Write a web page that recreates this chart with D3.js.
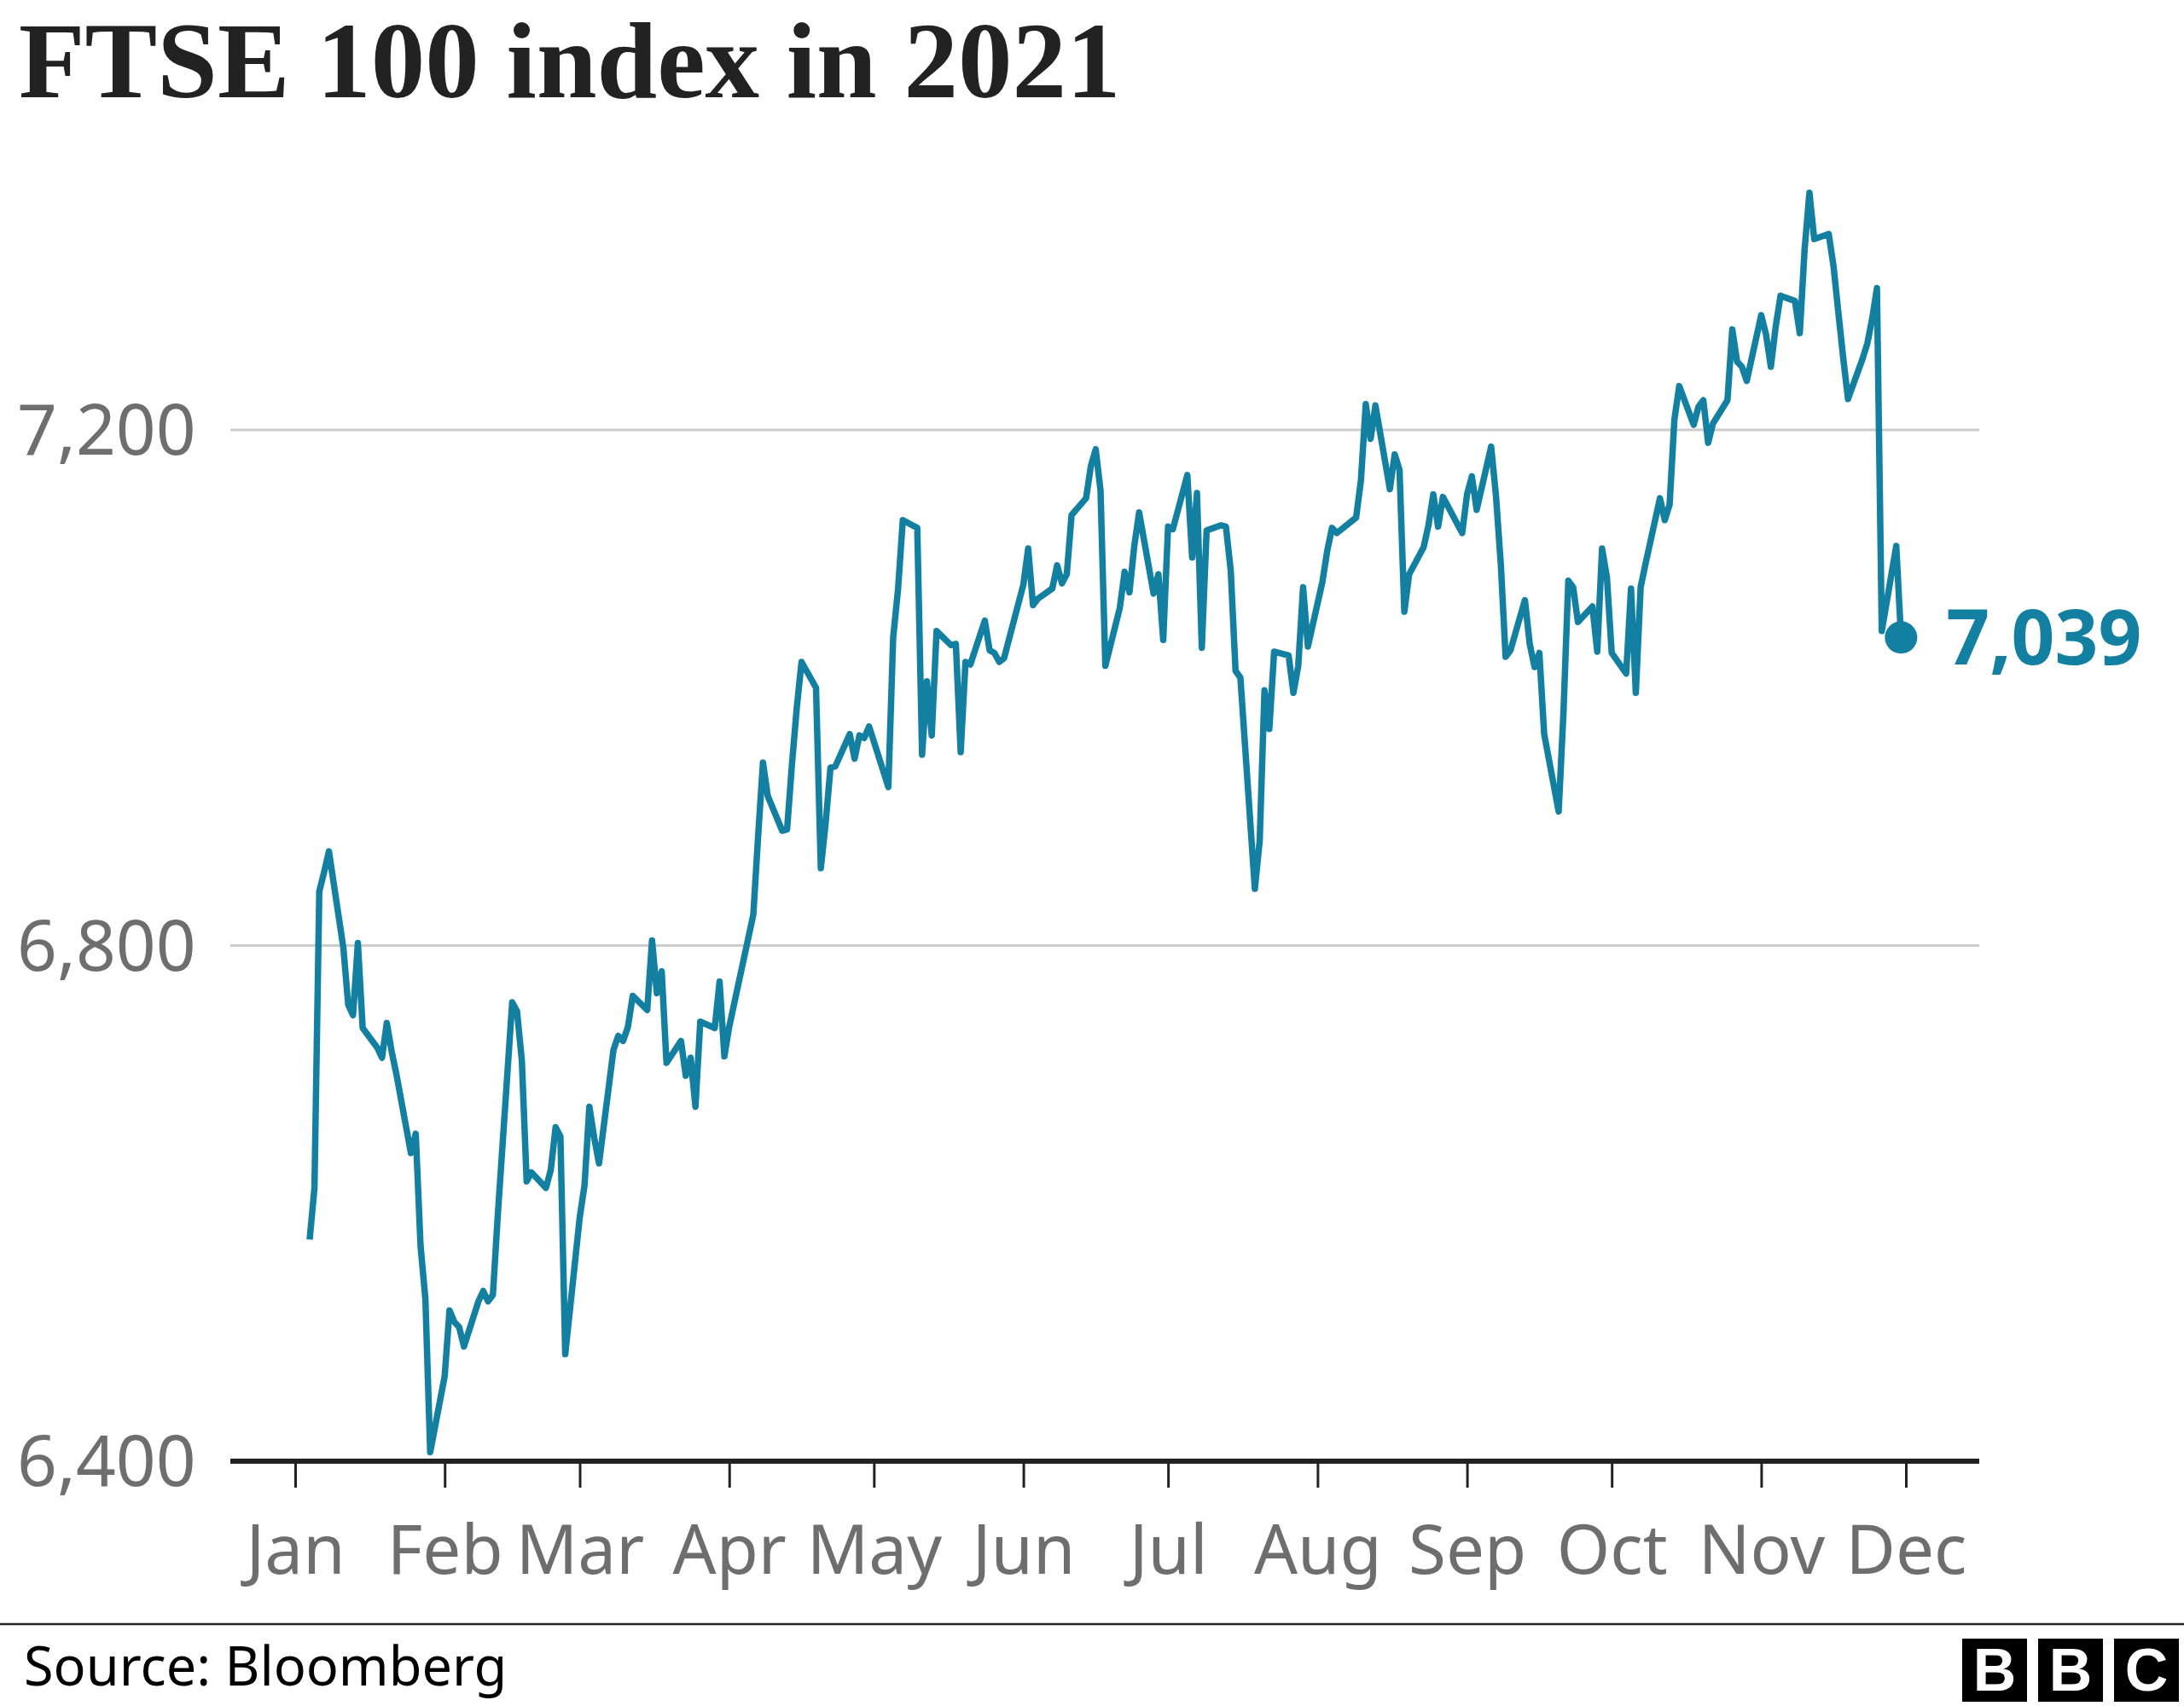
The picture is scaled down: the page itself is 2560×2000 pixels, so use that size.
<!DOCTYPE html>
<html>
<head>
<meta charset="utf-8">
<script src="https://cdn.jsdelivr.net/npm/d3@7"></script>
<style>
  html, body { margin: 0; padding: 0; background: #ffffff; }
  svg { display: block; }
</style>
</head>
<body>
<svg id="chart" width="2560" height="2000"></svg>
<script>
// ---------------- DATA ----------------
const title = "FTSE 100 index in 2021";
const source = "Source: Bloomberg";
const endLabel = "7,039";

const tradingDays = [
  "2021-01-04","2021-01-05","2021-01-06","2021-01-07","2021-01-08",
  "2021-01-11","2021-01-12","2021-01-13","2021-01-14","2021-01-15",
  "2021-01-18","2021-01-19","2021-01-20","2021-01-21","2021-01-22",
  "2021-01-25","2021-01-26","2021-01-27","2021-01-28","2021-01-29",
  "2021-02-01","2021-02-02","2021-02-03","2021-02-04","2021-02-05",
  "2021-02-08","2021-02-09","2021-02-10","2021-02-11","2021-02-12",
  "2021-02-15","2021-02-16","2021-02-17","2021-02-18","2021-02-19",
  "2021-02-22","2021-02-23","2021-02-24","2021-02-25","2021-02-26",
  "2021-03-01","2021-03-02","2021-03-03","2021-03-04","2021-03-05",
  "2021-03-08","2021-03-09","2021-03-10","2021-03-11","2021-03-12",
  "2021-03-15","2021-03-16","2021-03-17","2021-03-18","2021-03-19",
  "2021-03-22","2021-03-23","2021-03-24","2021-03-25","2021-03-26",
  "2021-03-29","2021-03-30","2021-03-31",
  "2021-04-01","2021-04-06","2021-04-07","2021-04-08","2021-04-09",
  "2021-04-12","2021-04-13","2021-04-14","2021-04-15","2021-04-16",
  "2021-04-19","2021-04-20","2021-04-21","2021-04-22","2021-04-23",
  "2021-04-26","2021-04-27","2021-04-28","2021-04-29","2021-04-30",
  "2021-05-04","2021-05-05","2021-05-06","2021-05-07",
  "2021-05-10","2021-05-11","2021-05-12","2021-05-13","2021-05-14",
  "2021-05-17","2021-05-18","2021-05-19","2021-05-20","2021-05-21",
  "2021-05-24","2021-05-25","2021-05-26","2021-05-27","2021-05-28",
  "2021-06-01","2021-06-02","2021-06-03","2021-06-04",
  "2021-06-07","2021-06-08","2021-06-09","2021-06-10","2021-06-11",
  "2021-06-14","2021-06-15","2021-06-16","2021-06-17","2021-06-18",
  "2021-06-21","2021-06-22","2021-06-23","2021-06-24","2021-06-25",
  "2021-06-28","2021-06-29","2021-06-30",
  "2021-07-01","2021-07-02",
  "2021-07-05","2021-07-06","2021-07-07","2021-07-08","2021-07-09",
  "2021-07-12","2021-07-13","2021-07-14","2021-07-15","2021-07-16",
  "2021-07-19","2021-07-20","2021-07-21","2021-07-22","2021-07-23",
  "2021-07-26","2021-07-27","2021-07-28","2021-07-29","2021-07-30",
  "2021-08-02","2021-08-03","2021-08-04","2021-08-05","2021-08-06",
  "2021-08-09","2021-08-10","2021-08-11","2021-08-12","2021-08-13",
  "2021-08-16","2021-08-17","2021-08-18","2021-08-19","2021-08-20",
  "2021-08-23","2021-08-24","2021-08-25","2021-08-26","2021-08-27",
  "2021-08-31",
  "2021-09-01","2021-09-02","2021-09-03",
  "2021-09-06","2021-09-07","2021-09-08","2021-09-09","2021-09-10",
  "2021-09-13","2021-09-14","2021-09-15","2021-09-16","2021-09-17",
  "2021-09-20","2021-09-21","2021-09-22","2021-09-23","2021-09-24",
  "2021-09-27","2021-09-28","2021-09-29","2021-09-30",
  "2021-10-01",
  "2021-10-04","2021-10-05","2021-10-06","2021-10-07","2021-10-08",
  "2021-10-11","2021-10-12","2021-10-13","2021-10-14","2021-10-15",
  "2021-10-18","2021-10-19","2021-10-20","2021-10-21","2021-10-22",
  "2021-10-25","2021-10-26","2021-10-27","2021-10-28","2021-10-29",
  "2021-11-01","2021-11-02","2021-11-03","2021-11-04","2021-11-05",
  "2021-11-08","2021-11-09","2021-11-10","2021-11-11","2021-11-12",
  "2021-11-15","2021-11-16","2021-11-17","2021-11-18","2021-11-19",
  "2021-11-22","2021-11-23","2021-11-24","2021-11-25","2021-11-26",
  "2021-11-29","2021-11-30"
];

const closeValues = [
  6572, 6612, 6842, 6857, 6873,
  6798, 6754, 6746, 6802, 6736,
  6721, 6713, 6740, 6718, 6700,
  6639, 6654, 6567, 6526, 6407,
  6466, 6517, 6508, 6504, 6489,
  6524, 6532, 6524, 6529, 6590,
  6756, 6749, 6711, 6617, 6624,
  6612, 6626, 6659, 6652, 6483,
  6589, 6614, 6675, 6651, 6631,
  6719, 6730, 6726, 6737, 6761,
  6750, 6804, 6763, 6780, 6709,
  6726, 6699, 6713, 6675, 6741,
  6736, 6772, 6714,
  6737, 6824, 6885, 6942, 6916,
  6889, 6890, 6940, 6984, 7020,
  7000, 6860, 6895, 6938, 6939,
  6964, 6945, 6963, 6961, 6970,
  6923, 7039, 7076, 7130,
  7124, 6948, 7005, 6963, 7044,
  7033, 7034, 6950, 7020, 7018,
  7052, 7029, 7027, 7020, 7023,
  7080, 7108, 7064, 7069,
  7077, 7095, 7081, 7088, 7134,
  7147, 7172, 7185, 7153, 7017,
  7062, 7090, 7074, 7110, 7136,
  7073, 7088, 7037,
  7125, 7123,
  7165, 7101, 7151, 7031, 7122,
  7126, 7125, 7091, 7013, 7008,
  6844, 6881, 6998, 6968, 7028,
  7025, 6996, 7017, 7078, 7032,
  7082, 7106, 7124, 7120, 7123,
  7132, 7161, 7220, 7193, 7219,
  7154, 7181, 7169, 7059, 7088,
  7109, 7126, 7150, 7125, 7148,
  7120,
  7150, 7164, 7138,
  7187, 7149, 7096, 7024, 7029,
  7068, 7034, 7016, 7027, 6964,
  6904, 6981, 7083, 7078, 7051,
  7063, 7028, 7108, 7086,
  7027,
  7011, 7077, 6996, 7078, 7096,
  7147, 7130, 7142, 7208, 7234,
  7204, 7218, 7223, 7190, 7205,
  7223, 7278, 7253, 7249, 7238,
  7289, 7274, 7249, 7280, 7304,
  7300, 7275, 7340, 7384, 7348,
  7352, 7327, 7291, 7256, 7224,
  7255, 7267, 7286, 7310, 7044,
  7110, 7039
];

const monthTicks = ["2021-01-01","2021-02-01","2021-03-01","2021-04-01","2021-05-01","2021-06-01",
                    "2021-07-01","2021-08-01","2021-09-01","2021-10-01","2021-11-01","2021-12-01"];
const monthLabels = ["Jan","Feb","Mar","Apr","May","Jun","Jul","Aug","Sep","Oct","Nov","Dec"];
const yTicks = [6400, 6800, 7200];

// ---------------- LAYOUT ----------------
const W = 2560, H = 2000;
const plotLeft = 270, plotRight = 2320;
const teal = "#1380A1";
const grey = "#6e6e6e";
const dark = "#222222";

const parse = d3.utcParse("%Y-%m-%d");
const data = tradingDays.map((d, i) => ({ date: parse(d), value: closeValues[i] }));

const x = d3.scaleUtc()
  .domain([parse("2021-01-01"), parse("2021-12-01")])
  .range([346, 2234]);

const y = d3.scaleLinear()
  .domain([6400, 7200])
  .range([1713, 504]);

const svg = d3.select("#chart");
svg.append("rect").attr("width", W).attr("height", H).attr("fill", "#ffffff");

// Title
svg.append("text")
  .attr("x", 22).attr("y", 114)
  .attr("font-family", "'Liberation Serif', 'DejaVu Serif', serif")
  .attr("font-weight", "bold")
  .attr("font-size", 127)
  .attr("fill", dark)
  .text(title);

// Gridlines
svg.append("g").selectAll("line")
  .data(yTicks.filter(t => t !== 6400))
  .join("line")
  .attr("x1", plotLeft).attr("x2", plotRight)
  .attr("y1", d => y(d)).attr("y2", d => y(d))
  .attr("stroke", "#cccccc").attr("stroke-width", 3);

// Y labels
svg.append("g").selectAll("text")
  .data(yTicks)
  .join("text")
  .attr("x", 20)
  .attr("y", d => y(d) + 29)
  .attr("font-family", "'Noto Sans', 'Open Sans', sans-serif")
  .attr("font-size", 82)
  .attr("fill", grey)
  .text(d => d3.format(",")(d));

// X axis using d3 axis
const xAxis = d3.axisBottom(x)
  .tickValues(monthTicks.map(parse))
  .tickFormat((d, i) => monthLabels[i])
  .tickSize(31)
  .tickPadding(44)
  .tickSizeOuter(0);

const gx = svg.append("g")
  .attr("transform", `translate(0, ${y(6400)})`)
  .call(xAxis);
gx.select(".domain").remove();
gx.selectAll(".tick line").attr("stroke", dark).attr("stroke-width", 3);
gx.selectAll(".tick text")
  .attr("font-family", "'Noto Sans', 'Open Sans', sans-serif")
  .attr("font-size", 80)
  .attr("fill", grey);

// Baseline
svg.append("line")
  .attr("x1", plotLeft).attr("x2", plotRight)
  .attr("y1", y(6400)).attr("y2", y(6400))
  .attr("stroke", dark).attr("stroke-width", 6);

// Line
const line = d3.line().x(d => x(d.date)).y(d => y(d.value));
svg.append("path")
  .datum(data)
  .attr("d", line)
  .attr("fill", "none")
  .attr("stroke", teal)
  .attr("stroke-width", 7.5)
  .attr("stroke-linejoin", "round")
  .attr("stroke-linecap", "butt");

// End dot and label
const last = data[data.length - 1];
svg.append("circle")
  .attr("cx", x(last.date)).attr("cy", y(last.value))
  .attr("r", 19).attr("fill", teal);

svg.append("text")
  .attr("x", x(last.date) + 53)
  .attr("y", y(last.value) + 32)
  .attr("font-family", "'Noto Sans', 'Open Sans', sans-serif")
  .attr("font-weight", "bold")
  .attr("font-size", 89)
  .attr("fill", teal)
  .text(endLabel);

// Footer
svg.append("line")
  .attr("x1", 0).attr("x2", W)
  .attr("y1", 1904).attr("y2", 1904)
  .attr("stroke", dark).attr("stroke-width", 2.5);

svg.append("text")
  .attr("x", 28).attr("y", 1976)
  .attr("font-family", "'Noto Sans', 'Open Sans', sans-serif")
  .attr("font-size", 63)
  .attr("fill", "#000000")
  .text(source);

// BBC logo
const logoLetters = ["B", "B", "C"];
const logo = svg.append("g");
logo.selectAll("rect")
  .data(logoLetters)
  .join("rect")
  .attr("x", (d, i) => 2300 + i * 89)
  .attr("y", 1921)
  .attr("width", 76).attr("height", 74)
  .attr("fill", "#000000");
logo.selectAll("text")
  .data(logoLetters)
  .join("text")
  .attr("x", (d, i) => 2300 + i * 89 + 38)
  .attr("y", 1982)
  .attr("text-anchor", "middle")
  .attr("font-family", "'Liberation Sans', Arial, sans-serif")
  .attr("font-weight", "bold")
  .attr("font-size", 70)
  .attr("fill", "#ffffff")
  .text(d => d);
</script>
</body>
</html>
